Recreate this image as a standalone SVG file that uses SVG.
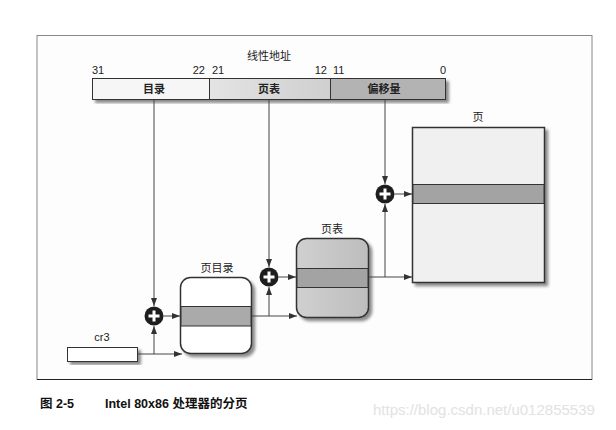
<svg xmlns="http://www.w3.org/2000/svg" width="616" height="430" viewBox="0 0 616 430">
<style>
.t{font-family:"Liberation Sans","Noto Sans CJK SC",sans-serif;font-size:11px;fill:#222}
.tb{font-weight:bold}
.n{font-family:"Liberation Sans",sans-serif;font-size:11px;fill:#222}
.c{stroke:#444;stroke-width:1;fill:none}
.b{stroke:#333;stroke-width:1.5}
.cap{font-family:"Liberation Sans","Noto Sans CJK SC",sans-serif;font-size:12.5px;fill:#111;font-weight:bold}
</style>
<defs>
<marker id="ar" viewBox="0 0 8 8" refX="8" refY="4" markerWidth="8" markerHeight="8" markerUnits="userSpaceOnUse" orient="auto">
<path d="M0,1 L8,4 L0,7 Z" fill="#333"/>
</marker>
<filter id="sh" x="-10%" y="-10%" width="130%" height="130%">
<feDropShadow dx="3" dy="3" stdDeviation="1.8" flood-color="#000" flood-opacity="0.45"/>
</filter>
<linearGradient id="gPT" x1="0" y1="0" x2="1" y2="0">
<stop offset="0" stop-color="#d0d0d0"/><stop offset="1" stop-color="#bdbdbd"/>
</linearGradient>
<linearGradient id="gTab" x1="0" y1="0" x2="1" y2="0">
<stop offset="0" stop-color="#e4e4e4"/><stop offset="1" stop-color="#cfcfcf"/>
</linearGradient>
</defs>
<rect width="616" height="430" fill="#ffffff"/>
<rect x="37" y="35.5" width="555" height="344" fill="#fdfdfd" stroke="#888" stroke-width="1"/>
<line x1="37" y1="379.5" x2="592" y2="379.5" stroke="#222" stroke-width="1.2"/>

<g id="linear-address">
<text class="t" x="269" y="60" text-anchor="middle">线性地址</text>
<text class="n" x="92" y="74">31</text>
<text class="n" x="205" y="74" text-anchor="end">22</text>
<text class="n" x="212" y="74">21</text>
<text class="n" x="327" y="74" text-anchor="end">12</text>
<text class="n" x="333" y="74">11</text>
<text class="n" x="446" y="74" text-anchor="end">0</text>
<g filter="url(#sh)">
<rect x="92.5" y="78.5" width="117" height="21" fill="#f6f6f6" stroke="#333"/>
<rect x="209.5" y="78.5" width="121" height="21" fill="url(#gTab)" stroke="#333"/>
<rect x="330.5" y="78.5" width="115" height="21" fill="#b3b3b3" stroke="#333"/>
</g>
<text class="t tb" x="154" y="93" text-anchor="middle">目录</text>
<text class="t tb" x="269" y="93" text-anchor="middle">页表</text>
<text class="t tb" x="384" y="93" text-anchor="middle">偏移量</text>
</g>

<g id="cr3">
<text class="n" x="102" y="341" text-anchor="middle">cr3</text>
<rect x="67.5" y="347.5" width="70" height="14" fill="#fff" stroke="#333" filter="url(#sh)"/>
</g>

<g id="page-directory">
<text class="t" x="217" y="272" text-anchor="middle">页目录</text>
<rect x="180.5" y="277.5" width="71" height="76" rx="10" fill="#fff" class="b" filter="url(#sh)"/>
<rect x="181" y="306.5" width="70" height="19.5" fill="#aaa" stroke="#333"/>
</g>

<g id="page-table">
<text class="t" x="332" y="233" text-anchor="middle">页表</text>
<rect x="296.5" y="238.5" width="72" height="79" rx="10" fill="url(#gPT)" class="b" filter="url(#sh)"/>
<rect x="297" y="268.5" width="71" height="19" fill="#a3a3a3" stroke="#333"/>
</g>

<g id="page">
<text class="t" x="478" y="121" text-anchor="middle">页</text>
<rect x="412.5" y="127.5" width="132" height="155" fill="#f0f0f0" stroke="#333" stroke-width="1.5" filter="url(#sh)"/>
<rect x="413" y="184.5" width="131" height="19" fill="#a3a3a3" stroke="#333"/>
</g>

<g id="plus1">
<circle cx="154" cy="316" r="9.5" fill="#1e1e1e"/>
<path d="M154,310.5 V321.5 M148.5,316 H159.5" stroke="#fff" stroke-width="3"/>
</g>
<g id="plus2">
<circle cx="269" cy="277" r="9.5" fill="#1e1e1e"/>
<path d="M269,271.5 V282.5 M263.5,277 H274.5" stroke="#fff" stroke-width="3"/>
</g>
<g id="plus3">
<circle cx="385" cy="194" r="9.5" fill="#1e1e1e"/>
<path d="M385,188.5 V199.5 M379.5,194 H390.5" stroke="#fff" stroke-width="3"/>
</g>

<g id="connectors">
<path class="c" d="M154,100 V306" marker-end="url(#ar)"/>
<path class="c" d="M269,100 V267" marker-end="url(#ar)"/>
<path class="c" d="M385,100 V184" marker-end="url(#ar)"/>
<path class="c" d="M137.5,354 H182" marker-end="url(#ar)"/>
<path class="c" d="M154,354 V326" marker-end="url(#ar)"/>
<path class="c" d="M163.5,316 H180" marker-end="url(#ar)"/>
<path class="c" d="M252,316 H297" marker-end="url(#ar)"/>
<path class="c" d="M269,316 V287" marker-end="url(#ar)"/>
<path class="c" d="M278.5,277 H296" marker-end="url(#ar)"/>
<path class="c" d="M369,277 H412" marker-end="url(#ar)"/>
<path class="c" d="M385,277 V204" marker-end="url(#ar)"/>
<path class="c" d="M394.5,194 H412" marker-end="url(#ar)"/>
</g>

<text class="cap" x="40" y="408">图 2-5<tspan x="105">Intel  80x86 处理器的分页</tspan></text>
<text x="373" y="415" font-family="Liberation Sans,sans-serif" font-size="15" fill="#e2e2e2">https://blog.csdn.net/u012855539</text>
</svg>
